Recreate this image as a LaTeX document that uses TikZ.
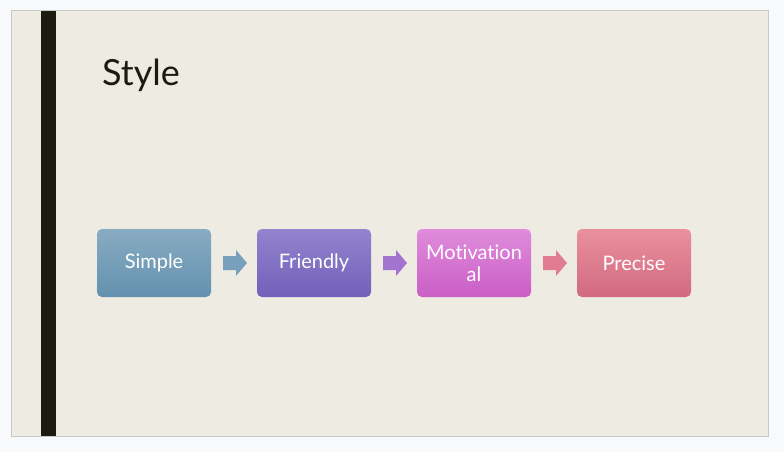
\documentclass[tikz,border=0pt]{standalone}
\usepackage{fontspec}
\setmainfont{Lato}[Ligatures={NoCommon,NoRare}]
\definecolor{outbg}{HTML}{F8F9FB}
\definecolor{slidebg}{HTML}{EEEBE3}
\definecolor{slideborder}{HTML}{C8C8C8}
\definecolor{barcol}{HTML}{1B1B10}
\definecolor{titlecol}{HTML}{1B1B10}
\definecolor{aT}{HTML}{88ACC2}\definecolor{aB}{HTML}{6391AF}
\definecolor{bT}{HTML}{9284CE}\definecolor{bB}{HTML}{7260BA}
\definecolor{cT}{HTML}{E08CDC}\definecolor{cB}{HTML}{CA5EC6}
\definecolor{dT}{HTML}{E9909E}\definecolor{dB}{HTML}{D26A80}
\definecolor{arA}{HTML}{78A0BC}\definecolor{arB}{HTML}{A274D0}\definecolor{arC}{HTML}{E27C92}
\tikzset{
  stepbox/.style={rounded corners=5pt, minimum width=114pt, minimum height=68pt,
    inner sep=2pt, text=white, align=center, font=\fontsize{20}{22}\selectfont, text width=110pt},
  blockarrow/.pic={\fill[pic actions] (-12,-7) -- (1,-7) -- (1,-13) -- (12,0) -- (1,13) -- (1,7) -- (-12,7) -- cycle;}
}
\begin{document}
\begin{tikzpicture}[x=1pt,y=-1pt]
\useasboundingbox (0,0) rectangle (784,452);
\fill[outbg] (0,0) rectangle (784,452);
\draw[slideborder, fill=slidebg] (11.5,10.5) rectangle (768.5,436.5);
\fill[barcol] (41,11) rectangle (56,436);
\node[anchor=west, text=titlecol, font=\fontsize{36}{40}\selectfont, inner sep=0pt] (title) at (102,75) {Style};
\node[stepbox, top color=aT, bottom color=aB] (s1) at (154,263) {Simple};
\node[stepbox, top color=bT, bottom color=bB] (s2) at (314,263) {Friendly};
\node[stepbox, top color=cT, bottom color=cB] (s3) at (474,263) {Motivation\\al};
\node[stepbox, top color=dT, bottom color=dB] (s4) at (634,263) {Precise};
\coordinate (a1) at (235,263);
\coordinate (a2) at (395,263);
\coordinate (a3) at (555,263);
\pic[fill=arA] at (a1) {blockarrow};
\pic[fill=arB] at (a2) {blockarrow};
\pic[fill=arC] at (a3) {blockarrow};
\end{tikzpicture}
\end{document}
